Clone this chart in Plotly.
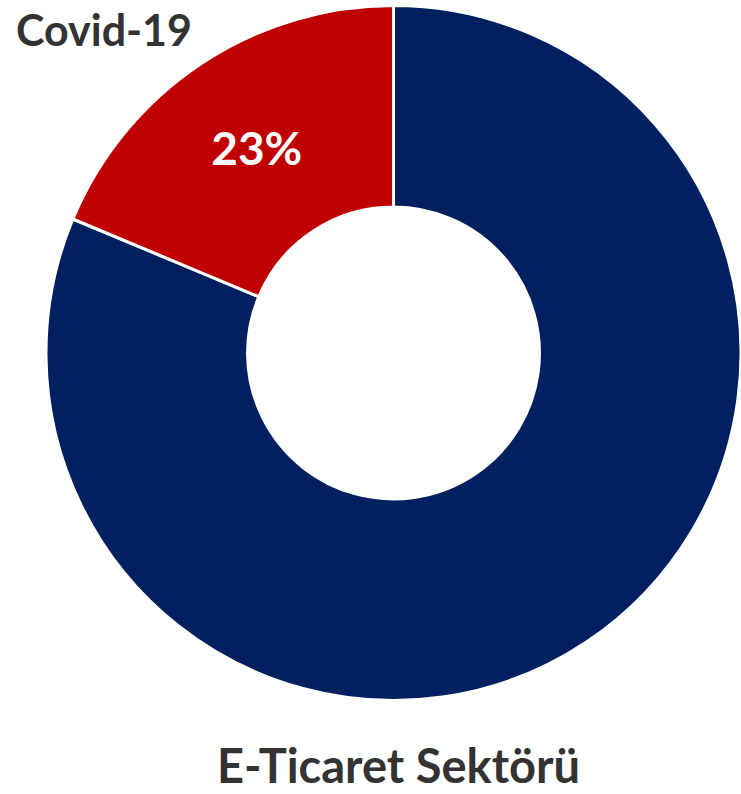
import plotly.graph_objects as go

labels = ["E-Ticaret Sektörü", "Covid-19"]
values = [100, 23]
slice_text = ["", "23%"]
colors = ["#002060", "#C00000"]

W, H = 741, 794
cx, cy, r = 394, 353, 348

fig = go.Figure(go.Pie(
    labels=labels,
    values=values,
    text=slice_text,
    textinfo="text",
    textposition="inside",
    insidetextorientation="horizontal",
    textfont=dict(family="Lato", size=46, color="white", weight="bold"),
    marker=dict(colors=colors, line=dict(color="white", width=3)),
    hole=0.42,
    sort=False,
    direction="clockwise",
    rotation=0,
    showlegend=False,
    hoverinfo="label+value",
    domain=dict(x=[(cx - r) / W, min(1, (cx + r) / W)],
                y=[(H - cy - r) / H, (H - cy + r) / H]),
))

fig.add_annotation(text="<b>Covid-19</b>", x=14 / W, y=1 - 30 / H, xref="paper", yref="paper",
                   xanchor="left", yanchor="middle", showarrow=False,
                   font=dict(family="Lato", size=43, color="#333333"))
fig.add_annotation(text="<b>E-Ticaret Sektörü</b>", x=398 / W, y=1 - 765 / H, xref="paper", yref="paper",
                   xanchor="center", yanchor="middle", showarrow=False,
                   font=dict(family="Lato", size=47, color="#333333"))

fig.update_layout(width=W, height=H, margin=dict(l=0, r=0, t=0, b=0),
                  paper_bgcolor="white", plot_bgcolor="white")
fig.write_html("out.html", config={"displayModeBar": False},
               post_script="document.body.style.margin='0';")
